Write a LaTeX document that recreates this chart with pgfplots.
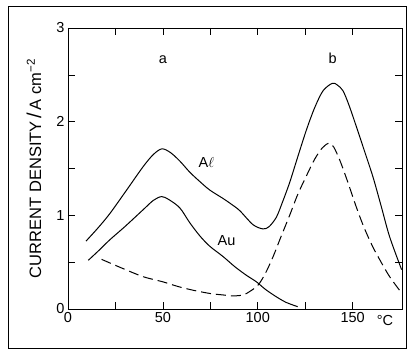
\documentclass[border=0pt]{standalone}
\usepackage{fontspec}
\setmainfont{Liberation Sans}
\usepackage{pgfplots}
\pgfplotsset{compat=1.18}
\begin{document}
\begin{tikzpicture}
\begin{axis}[
  scale only axis, width=334pt, height=281pt,
  xmin=0, xmax=176, ymin=0, ymax=3,
  xtick={0,25,50,75,100,125,150}, xticklabels={0,,50,,100,,150},
  ytick={0,0.5,1,1.5,2,2.5,3}, yticklabels={0,,1,,2,,3},
  tick align=inside, major tick length=7pt,
  tick style={black, line width=0.6pt},
  axis line style={line width=0.8pt},
  tick label style={font=\fontsize{14.5}{16}\selectfont},
  /pgf/number format/assume math mode=true,
  ylabel={CURRENT DENSITY\,{\fontsize{20}{20}\selectfont/}\,A cm\textsuperscript{−2}},
  ylabel style={font=\fontsize{16.5}{18}\selectfont, at={(axis description cs:-0.102,0.5)}, anchor=center},
  clip=true,
]
\addplot[black, line width=1pt, smooth, tension=0.5] coordinates {
(9.5,0.725)(16,0.87)(22.1,1.02)(30.9,1.27)(39.6,1.52)(45,1.65)(49.5,1.71)(54,1.67)(58.9,1.58)(64.2,1.46)(69.5,1.36)(74.7,1.27)(81.7,1.18)(86,1.12)(90.5,1.05)(97.5,0.9)(102.8,0.855)(106,0.88)(109.8,0.98)(113,1.14)(116.8,1.35)(121,1.62)(125.6,1.91)(130,2.15)(134.4,2.33)(139.3,2.41)(142,2.39)(144.9,2.33)(148,2.18)(151.9,1.95)(156,1.70)(160.7,1.41)(165,1.1)(169.5,0.77)(175.8,0.42)};
\addplot[black, line width=1pt, smooth, tension=0.5] coordinates {
(10.7,0.52)(16,0.62)(22.1,0.74)(30,0.88)(39.6,1.06)(45,1.16)(49.3,1.2)(53,1.17)(58.9,1.08)(64.2,0.92)(69.5,0.78)(74.7,0.67)(81.7,0.56)(88,0.45)(94,0.36)(99.3,0.29)(104,0.21)(109.8,0.13)(115,0.07)(121,0.025)};
\addplot[black, line width=1pt, smooth, tension=0.5, dash pattern=on 10pt off 5pt] coordinates {
(17.7,0.53)(28,0.44)(39.6,0.345)(50,0.29)(58,0.24)(66,0.20)(75,0.165)(81.7,0.15)(87,0.14)(92.3,0.15)(96,0.19)(100.2,0.256)(104,0.38)(108.1,0.56)(112,0.76)(116.8,1.0)(121,1.22)(125.6,1.42)(130,1.6)(134,1.72)(137.5,1.77)(140,1.73)(143.2,1.59)(147,1.38)(151.9,1.09)(156,0.87)(160.7,0.66)(165,0.50)(169.5,0.345)(175.8,0.17)};
\node[font=\fontsize{14.5}{16}\selectfont] at (axis cs:50,2.66) {a};
\node[font=\fontsize{14.5}{16}\selectfont] at (axis cs:139.5,2.68) {b};
\node[font=\fontsize{14.5}{16}\selectfont] at (axis cs:73,1.56) {A$\ell$};
\node[font=\fontsize{14.5}{16}\selectfont] at (axis cs:83.5,0.73) {Au};
\end{axis}
\node[font=\fontsize{14.5}{16}\selectfont, anchor=base] at (385pt-68pt,-17pt) {°C};
\draw[line width=0.8pt] (-60pt,-39pt) rectangle (338pt,303pt);
\path (-68pt,-42pt) rectangle (340pt,309pt);
\end{tikzpicture}
\end{document}
